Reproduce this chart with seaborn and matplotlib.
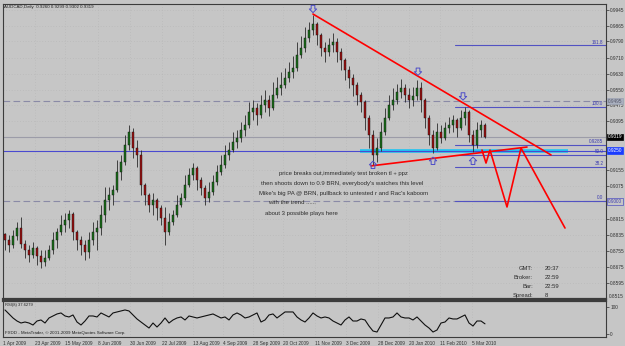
import numpy as np
import pandas as pd
import matplotlib
matplotlib.use("Agg")
import matplotlib.pyplot as plt
import seaborn as sns
from matplotlib.path import Path
from matplotlib.transforms import blended_transform_factory

# ---------------- data (AUDCAD daily, 2-day bars) ----------------
first_open = 0.8840
closes = [0.8809, 0.8784, 0.8829, 0.8868, 0.8789, 0.8759, 0.8735, 0.8769, 0.8730, 0.8700,
          0.8720, 0.8759, 0.8809, 0.8848, 0.8883, 0.8908, 0.8937, 0.8848, 0.8809, 0.8784,
          0.8750, 0.8809, 0.8848, 0.8868, 0.8932, 0.9006, 0.9031, 0.9056, 0.9145, 0.9194,
          0.9278, 0.9342, 0.9263, 0.9229, 0.9080, 0.9031, 0.8982, 0.9006, 0.8967, 0.8918,
          0.8848, 0.8898, 0.8932, 0.8982, 0.9016, 0.9080, 0.9130, 0.9164, 0.9105, 0.9066,
          0.9016, 0.9046, 0.9095, 0.9145, 0.9179, 0.9229, 0.9253, 0.9293, 0.9313, 0.9352,
          0.9377, 0.9441, 0.9461, 0.9426, 0.9476, 0.9500, 0.9461, 0.9525, 0.9560, 0.9574,
          0.9609, 0.9639, 0.9658, 0.9723, 0.9757, 0.9807, 0.9846, 0.9876, 0.9822, 0.9757,
          0.9738, 0.9772, 0.9787, 0.9738, 0.9698, 0.9649, 0.9609, 0.9574, 0.9525, 0.9491,
          0.9411, 0.9328, 0.9229, 0.9263, 0.9342, 0.9411, 0.9476, 0.9500, 0.9540, 0.9560,
          0.9525, 0.9500, 0.9520, 0.9560, 0.9500, 0.9411, 0.9328, 0.9263, 0.9342, 0.9313,
          0.9362, 0.9377, 0.9402, 0.9362, 0.9411, 0.9441, 0.9328, 0.9278, 0.9352, 0.9377,
          0.9319]
highs = [0.8843, 0.8834, 0.8858, 0.8898, 0.8922, 0.8809, 0.8784, 0.8799, 0.8779, 0.8759,
         0.8759, 0.8784, 0.8848, 0.8868, 0.8932, 0.8942, 0.8957, 0.8947, 0.8858, 0.8829,
         0.8809, 0.8848, 0.8898, 0.8908, 0.8982, 0.9071, 0.9071, 0.9080, 0.9204, 0.9229,
         0.9328, 0.9377, 0.9362, 0.9303, 0.9253, 0.9090, 0.9041, 0.9041, 0.9016, 0.8982,
         0.8972, 0.8942, 0.8957, 0.9031, 0.9041, 0.9130, 0.9164, 0.9189, 0.9175, 0.9120,
         0.9080, 0.9095, 0.9130, 0.9179, 0.9229, 0.9278, 0.9293, 0.9342, 0.9352, 0.9392,
         0.9426, 0.9491, 0.9500, 0.9486, 0.9525, 0.9550, 0.9525, 0.9589, 0.9614, 0.9639,
         0.9658, 0.9688, 0.9718, 0.9787, 0.9817, 0.9861, 0.9886, 0.9920, 0.9886, 0.9831,
         0.9787, 0.9807, 0.9831, 0.9807, 0.9757, 0.9708, 0.9668, 0.9629, 0.9589, 0.9540,
         0.9500, 0.9426, 0.9352, 0.9313, 0.9392, 0.9461, 0.9525, 0.9560, 0.9579, 0.9604,
         0.9579, 0.9560, 0.9565, 0.9599, 0.9589, 0.9510, 0.9426, 0.9352, 0.9387, 0.9377,
         0.9392, 0.9416, 0.9426, 0.9411, 0.9451, 0.9466, 0.9451, 0.9352, 0.9392, 0.9402,
         0.9387]
lows = [0.8759, 0.8750, 0.8769, 0.8809, 0.8769, 0.8720, 0.8700, 0.8720, 0.8685, 0.8671,
        0.8680, 0.8710, 0.8740, 0.8769, 0.8834, 0.8848, 0.8868, 0.8809, 0.8759, 0.8735,
        0.8710, 0.8720, 0.8784, 0.8759, 0.8834, 0.8898, 0.8957, 0.8982, 0.9046, 0.9105,
        0.9180, 0.9253, 0.9214, 0.9169, 0.9031, 0.8982, 0.8947, 0.8932, 0.8908, 0.8883,
        0.8784, 0.8835, 0.8883, 0.8920, 0.8972, 0.9005, 0.9071, 0.9105, 0.9056, 0.9031,
        0.8982, 0.8997, 0.9031, 0.9080, 0.9130, 0.9165, 0.9204, 0.9244, 0.9263, 0.9293,
        0.9323, 0.9362, 0.9402, 0.9377, 0.9411, 0.9441, 0.9421, 0.9450, 0.9510, 0.9525,
        0.9560, 0.9589, 0.9609, 0.9645, 0.9708, 0.9738, 0.9787, 0.9822, 0.9772, 0.9718,
        0.9688, 0.9718, 0.9738, 0.9688, 0.9649, 0.9599, 0.9560, 0.9520, 0.9476, 0.9441,
        0.9352, 0.9263, 0.9179, 0.9194, 0.9250, 0.9328, 0.9402, 0.9451, 0.9481, 0.9510,
        0.9491, 0.9461, 0.9471, 0.9500, 0.9441, 0.9362, 0.9278, 0.9239, 0.9253, 0.9288,
        0.9303, 0.9337, 0.9342, 0.9318, 0.9352, 0.9377, 0.9293, 0.9244, 0.9263, 0.9318,
        0.9313]
rsi = [88.9, 74.1, 59.3, 48.1, 40.7, 44.4, 40.7, 33.3, 48.1, 51.9,
       40.7, 59.3, 66.7, 74.1, 77.8, 66.7, 63.0, 70.4, 44.4, 33.3,
       48.1, 66.7, 66.7, 63.0, 77.8, 70.4, 63.0, 77.8, 81.5, 85.2,
       88.9, 85.2, 70.4, 55.6, 44.4, 33.3, 22.2, 40.7, 25.9, 40.7,
       59.3, 40.7, 51.9, 59.3, 63.0, 51.9, 66.7, 63.0, 59.3, 63.0,
       66.7, 70.4, 74.1, 66.7, 59.3, 63.0, 51.9, 70.4, 77.8, 70.4,
       59.3, 63.0, 70.4, 77.8, 44.4, 51.9, 70.4, 74.1, 59.3, 70.4,
       81.5, 81.5, 81.5, 63.0, 51.9, 44.4, 59.3, 77.8, 66.7, 59.3,
       63.0, 59.3, 48.1, 40.7, 33.3, 51.9, 63.0, 48.1, 48.1, 55.6,
       51.9, 29.6, 11.1, 7.4, 33.3, 59.3, 59.3, 63.0, 77.8, 63.0,
       59.3, 59.3, 51.9, 63.0, 48.1, 33.3, 22.2, 7.4, 14.8, 40.7,
       44.4, 59.3, 55.6, 55.6, 63.0, 70.4, 40.7, 29.6, 48.1, 48.1,
       37.6]

date_labels = ["1 Apr 2009", "23 Apr 2009", "15 May 2009", "8 Jun 2009", "30 Jun 2009",
               "22 Jul 2009", "13 Aug 2009", "4 Sep 2009", "28 Sep 2009", "20 Oct 2009",
               "11 Nov 2009", "3 Dec 2009", "28 Dec 2009", "20 Jan 2010", "11 Feb 2010",
               "5 Mar 2010"]
date_pos = [-0.5, 7.5, 15, 23.25, 31.25, 39.25, 47, 54.5, 62, 69.5, 77.5, 85.25, 93.25, 101, 108.75, 116.75]

price_ticks = [0.9945, 0.9865, 0.9790, 0.9710, 0.9630, 0.9550, 0.9475, 0.9395,
               0.9155, 0.9075, 0.8915, 0.8835, 0.8755, 0.8675, 0.8595]

# drawn objects (bar index, price)
upper_tl_x = [77, 136.5]
upper_tl_y = [0.9925, 0.9229]
lower_tl_x = [91.5, 130.5]
lower_tl_y = [0.9175, 0.9268]
path_x = [119.25, 120.25, 121.25, 125.5, 129.0, 140.0]
path_y = [0.9253, 0.9189, 0.9253, 0.8972, 0.9263, 0.8868]
zone_x = [88.75, 140.75]
zone_price = 0.9250
dash_levels = [0.9495, 0.9000]
bid_price = 0.9319
fib_start = 112.5
fib_levels = [0.9770, 0.9466, 0.9278, 0.9228, 0.9170, 0.9000]
fib_names = ["161.8", "100.0", "0.9285", "50.0", "38.2", "0.0"]
down_arrows_x = [77, 103.25, 114.5]
down_arrows_y = [0.9950, 0.9640, 0.9518]
up_arrows_x = [92, 107, 117]
up_arrows_y = [0.9180, 0.9200, 0.9200]

info_keys = ["GMT:", "Broker:", "Bar:", "Spread:"]
info_vals = ["20:37", "22:59", "22:59", "8"]

note_lines = ["price breaks out,immediately test broken tl + ppz",
              "then shoots down to 0.9 BRN, everybody's watches this level",
              "Mike's big PA @ BRN, pullback to untested r and Rac's kaboom",
              "with the trend ......",
              "about 3 possible plays here"]

# ---------------- style ----------------
sns.set_theme(style="white")
plt.rcParams['font.family'] = ['Liberation Sans', 'DejaVu Sans']
BG = "#c6c6c6"
W, H = 625, 346

fig = plt.figure(figsize=(W / 100, H / 100), dpi=100)
fig.patch.set_facecolor(BG)
ax = fig.add_axes([3 / W, 1 - 299 / H, 603 / W, 295 / H])
axr = fig.add_axes([3 / W, 1 - 337 / H, 603 / W, 36 / H], sharex=ax)
for a in (ax, axr):
    a.set_facecolor(BG)
    for s in a.spines.values():
        s.set_color("#3c3c3c")
        s.set_linewidth(0.8)
ax.spines["bottom"].set_linewidth(1.6)
axr.spines["top"].set_linewidth(1.6)

ylo = 0.99944 - 0.000494 * 299
yhi = 0.99944 - 0.000494 * 4
ax.set_xlim(-0.5, 150.25)
ax.set_ylim(ylo, yhi)

def fx(px):
    return (px - 3) / 603

def fy(py):
    return (299 - py) / 295

# grid (dotted, subtle)
ax.set_yticks(price_ticks)
ax.grid(True, color="#b4b4b4", linestyle=(0, (1, 3)), linewidth=0.5)
axr.grid(True, axis="x", color="#b4b4b4", linestyle=(0, (1, 3)), linewidth=0.5)

# horizontal levels
for lv in dash_levels:
    ax.axhline(lv, color="#8a8aa6", lw=0.8, ls=(0, (6, 3)), zorder=1)
ax.axhline(bid_price, color="#9c9ca8", lw=0.8, zorder=1)
ax.plot(zone_x, [zone_price, zone_price], color="#1ec4f2", lw=2.6, solid_capstyle="butt", zorder=2)
ax.axhline(zone_price, color="#4a4ad0", lw=0.8, zorder=2)
for lv, nm in zip(fib_levels, fib_names):
    ax.plot([fib_start, 150.25], [lv, lv], color="#5252c2", lw=0.8, zorder=1)
    ax.text(149.6, lv + 0.0004, nm, ha="right", va="bottom", fontsize=3.3, color="#3a3ab0")

# candles
opens = [first_open] + closes[:-1]
df = pd.DataFrame({"i": np.arange(len(closes)), "o": opens, "h": highs, "l": lows, "c": closes})
ax.vlines(df["i"], df["l"], df["h"], color="#2a2a2a", lw=0.6, zorder=3)
up = df[df["c"] >= df["o"]]
dn = df[df["c"] < df["o"]]
ax.bar(up["i"], up["c"] - up["o"], bottom=up["o"], width=0.6, color="#1a6e1a",
       edgecolor="#101010", linewidth=0.3, zorder=4)
ax.bar(dn["i"], dn["o"] - dn["c"], bottom=dn["c"], width=0.6, color="#9a1010",
       edgecolor="#101010", linewidth=0.3, zorder=4)

# red trend lines & projection
sns.lineplot(x=upper_tl_x, y=upper_tl_y, ax=ax, color="#ff0000", lw=1.2, zorder=5)
sns.lineplot(x=lower_tl_x, y=lower_tl_y, ax=ax, color="#ff0000", lw=1.2, zorder=5)
sns.lineplot(x=path_x, y=path_y, ax=ax, color="#ff0000", lw=1.2, sort=False, estimator=None, zorder=5)

# hollow block arrows (MT4 style)
down_verts = [(-0.3, 0.6), (0.3, 0.6), (0.3, 0.0), (0.6, 0.0), (0.0, -0.6),
              (-0.6, 0.0), (-0.3, 0.0), (-0.3, 0.6)]
up_verts = [(x, -y) for x, y in down_verts]
down_marker = Path(down_verts, closed=True)
up_marker = Path(up_verts, closed=True)
ax.scatter(down_arrows_x, down_arrows_y, marker=down_marker, s=28, facecolors="none",
           edgecolors="#4d4dc8", linewidths=0.7, zorder=6)
ax.scatter(up_arrows_x, up_arrows_y, marker=up_marker, s=28, facecolors="none",
           edgecolors="#4d4dc8", linewidths=0.7, zorder=6)

# right price axis
ax.yaxis.tick_right()
ax.set_yticklabels([f"{v:.4f}" for v in price_ticks])
ax.tick_params(axis="y", labelsize=3.4, length=2, width=0.5, pad=1, colors="#303030")
ax.tick_params(axis="x", bottom=False, labelbottom=False)
ax.set_xlabel("")
ax.set_ylabel("")
ax.text(1.004, fy(296), "0.8515", transform=ax.transAxes, fontsize=3.4, color="#303030",
        va="center", ha="left")

bt = blended_transform_factory(ax.transAxes, ax.transData)
def price_box(val, txt, fc, tc, ec):
    ax.text(1.003, val, txt, transform=bt, fontsize=3.4, color=tc, va="center", ha="left",
            bbox=dict(boxstyle="square,pad=0.15", fc=fc, ec=ec, lw=0.5), clip_on=False, zorder=7)

price_box(dash_levels[0], "0.9495", "#a9b0bf", "#555566", "#9aa0b0")
price_box(bid_price, "0.9319", "#000000", "#ffffff", "#000000")
price_box(zone_price, "0.9250", "#1a3cff", "#ffffff", "#1a3cff")
price_box(dash_levels[1], "0.9000", "#c6c6c6", "#3a3ab0", "#5050c0")

# texts
ax.text(fx(4), fy(7), "AUDCAD,Daily  0.9260 0.9299 0.9302 0.9319", transform=ax.transAxes,
        fontsize=3.2, color="#202020", va="center", ha="left")
note_left = [279, 261, 259, 268, 265]
note_y = [174, 184, 194, 203, 213]
for t, lx, ly in zip(note_lines, note_left, note_y):
    ax.text(fx(lx), fy(ly), t, transform=ax.transAxes, fontsize=4.3, color="#2c2c2c",
            va="center", ha="left")
for k, (kk, vv) in enumerate(zip(info_keys, info_vals)):
    py = 268 + k * 9.3
    ax.text(fx(533), fy(py), kk, transform=ax.transAxes, fontsize=4.2, color="#2c2c2c",
            va="center", ha="right")
    ax.text(fx(545), fy(py), vv, transform=ax.transAxes, fontsize=4.2, color="#2c2c2c",
            va="center", ha="left")

# RSI panel
sns.lineplot(x=np.arange(len(rsi)), y=rsi, ax=axr, color="#101010", lw=0.8)
axr.set_ylim(-11, 122)
axr.yaxis.tick_right()
axr.set_yticks([0, 100])
axr.set_yticklabels(["0", "100"])
axr.tick_params(axis="y", labelsize=3.4, length=2, width=0.5, pad=1, colors="#303030")
axr.set_xticks(date_pos)
axr.set_xticklabels(date_labels)
for lb in axr.get_xticklabels():
    lb.set_ha("left")
axr.tick_params(axis="x", labelsize=3.4, length=2, width=0.5, pad=1, colors="#303030")
axr.set_xlabel("")
axr.set_ylabel("")
axr.set_xlim(-0.5, 150.25)
axr.text(0.004, 0.88, "RSI(8) 37.6279", transform=axr.transAxes, fontsize=3.0,
         color="#202020", va="center", ha="left")
axr.text(0.004, 0.12, "FXDD - MetaTrader, \u00a9 2001-2009 MetaQuotes Software Corp.",
         transform=axr.transAxes, fontsize=3.2, color="#202020", va="center", ha="left")

fig.savefig("out.png", dpi=100, facecolor=BG)
